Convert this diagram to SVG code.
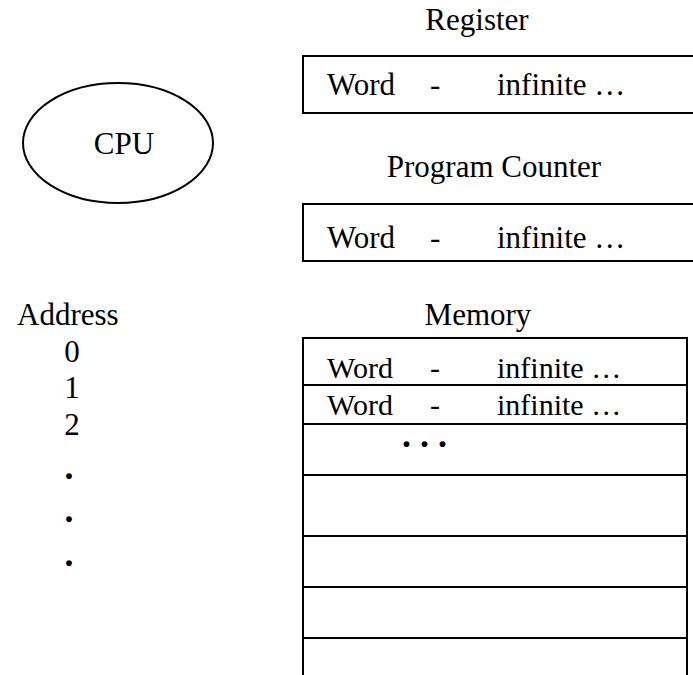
<svg xmlns="http://www.w3.org/2000/svg" width="693" height="675" viewBox="0 0 693 675">
<style>
text{font-family:"Liberation Serif","Times New Roman",serif;font-size:31px;fill:#000}
.s{fill:none;stroke:#000;stroke-width:2}
.m{text-anchor:middle}
.d{font-size:36px;font-weight:bold}
.r{font-size:30px}
</style>
<rect width="693" height="675" fill="#fff"/>
<g id="cpu">
<ellipse class="s" cx="118" cy="143" rx="95" ry="60"/>
<text class="m" x="124" y="154">CPU</text>
</g>
<g id="register">
<text class="m" x="477" y="30">Register</text>
<path class="s" d="M694,56 H303 V113 H694"/>
<text x="327" y="95">Word</text>
<text x="430" y="95">-</text>
<text x="497" y="95">infinite …</text>
</g>
<g id="program-counter">
<text class="m" x="494" y="177">Program Counter</text>
<path class="s" d="M694,204 H303 V261 H694"/>
<text x="327" y="248">Word</text>
<text x="430" y="248">-</text>
<text x="497" y="248">infinite …</text>
</g>
<g id="address">
<text x="17" y="325">Address</text>
<text class="m" x="72" y="362">0</text>
<text class="m" x="72" y="398">1</text>
<text class="m" x="72" y="435">2</text>
<text class="m d" x="69" y="479">.</text>
<text class="m d" x="69" y="522">.</text>
<text class="m d" x="69" y="566">.</text>
</g>
<g id="memory">
<text class="m" x="478" y="325">Memory</text>
<path class="s" d="M303,676 V338 H687 V676"/>
<path class="s" d="M303,385 H687 M303,424 H687 M303,475 H687 M303,536 H687 M303,587 H687 M303,638 H687"/>
<text class="r" x="327" y="378">Word</text>
<text class="r" x="430" y="378">-</text>
<text class="r" x="497" y="378">infinite …</text>
<text class="r" x="327" y="415">Word</text>
<text class="r" x="430" y="415">-</text>
<text class="r" x="497" y="415">infinite …</text>
<text class="d" x="402" y="447" font-size="28">. . .</text>
</g>
<g id="connectors"></g>
</svg>
